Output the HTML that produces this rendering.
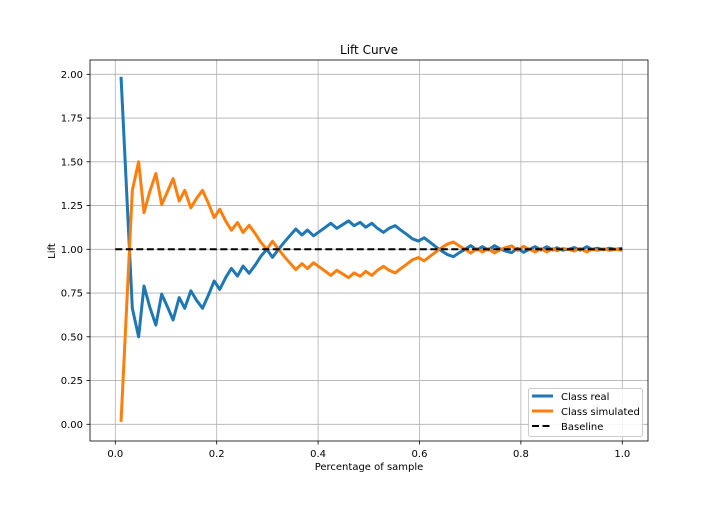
<!DOCTYPE html>
<html><head><meta charset="utf-8"><style>
body{margin:0;background:#fff;font-family:"Liberation Sans","DejaVu Sans",sans-serif}
svg text{font-family:"DejaVu Sans","Liberation Sans",sans-serif}
</style></head><body>
<svg id="c" width="720" height="504"></svg>
<script>
const xs=[0.0113,0.0336,0.046,0.0566,0.068,0.080,0.0915,0.103,0.114,0.126,0.137,0.149,0.16,0.172,0.184,0.195,0.206,0.218,0.229,0.241,0.252,0.264,0.276,0.287,0.299,0.310,0.322,0.333,0.345,0.356,0.368,0.379,0.391,0.402,0.414,0.425,0.437,0.448,0.460,0.471,0.483,0.494,0.506,0.517,0.529,0.540,0.552,0.563,0.575,0.586,0.598,0.609,0.621,0.632,0.644,0.655,0.667,0.678,0.690,0.701,0.713,0.724,0.736,0.748,0.759,0.770,0.782,0.793,0.805,0.817,0.828,0.840,0.851,0.863,0.871,0.882,0.894,0.905,0.917,0.930,0.940,0.951,0.963,0.975,0.987,1.0];
const realVals=[1.986,0.663,0.50,0.79,0.67,0.567,0.744,0.67,0.596,0.724,0.663,0.763,0.71,0.663,0.74,0.819,0.771,0.84,0.891,0.847,0.904,0.863,0.91,0.96,1.0,0.954,1.0,1.04,1.08,1.116,1.082,1.11,1.077,1.10,1.125,1.149,1.12,1.14,1.162,1.135,1.154,1.126,1.149,1.12,1.097,1.12,1.135,1.11,1.085,1.06,1.047,1.066,1.04,1.015,0.99,0.97,0.958,0.98,1.0,1.021,0.996,1.015,0.996,1.021,1.002,0.99,0.981,1.006,0.983,1.0,1.015,0.996,1.015,0.996,1.009,0.995,1.0,1.01,0.995,1.015,1.0,1.006,0.997,1.006,1.0,1.006];
const simVals=[0.014,1.337,1.50,1.21,1.33,1.433,1.256,1.33,1.404,1.276,1.337,1.237,1.29,1.337,1.26,1.181,1.229,1.16,1.109,1.153,1.096,1.137,1.09,1.04,1.0,1.046,1.0,0.96,0.92,0.884,0.918,0.89,0.923,0.90,0.875,0.851,0.88,0.86,0.838,0.865,0.846,0.874,0.851,0.88,0.903,0.88,0.865,0.89,0.915,0.94,0.953,0.934,0.96,0.985,1.01,1.03,1.042,1.02,1.0,0.979,1.004,0.985,1.004,0.979,0.998,1.01,1.019,0.994,1.017,1.0,0.985,1.004,0.985,1.004,0.991,1.005,1.0,0.99,1.005,0.985,1.0,0.994,1.003,0.994,1.0,0.994];
const xTicks=[0,0.2,0.4,0.6,0.8,1.0];
const xTickLabels=["0.0","0.2","0.4","0.6","0.8","1.0"];
const yTicks=[0,0.25,0.5,0.75,1.0,1.25,1.5,1.75,2.0];
const yTickLabels=["0.00","0.25","0.50","0.75","1.00","1.25","1.50","1.75","2.00"];
const L=90,R=648,T=60,B=441;
const X=v=>115.3+v*507, Y=v=>424.3-v*175;
const svg=document.getElementById('c'),NS='http://www.w3.org/2000/svg';
function mk(t,a,p){const e=document.createElementNS(NS,t);for(const k in a)e.setAttribute(k,a[k]);(p||svg).appendChild(e);return e;}
xTicks.forEach((t,i)=>{
 const g=mk('line',{x1:X(t),x2:X(t),y1:T,y2:B,stroke:'#b0b0b0','stroke-width':0.8});
 
 
 mk('line',{x1:X(t),x2:X(t),y1:B,y2:B+3.5,stroke:'#000','stroke-width':0.8});
 const tx=mk('text',{x:X(t),y:B+16,'text-anchor':'middle','font-size':10});tx.textContent=xTickLabels[i];
 
 
});
yTicks.forEach((t,i)=>{
 const g=mk('line',{x1:L,x2:R,y1:Y(t),y2:Y(t),stroke:'#b0b0b0','stroke-width':0.8});
 
 
 mk('line',{x1:L-3.5,x2:L,y1:Y(t),y2:Y(t),stroke:'#000','stroke-width':0.8});
 const tx=mk('text',{x:L-7,y:Y(t)+3.5,'text-anchor':'end','font-size':10});tx.textContent=yTickLabels[i];
 
 
});
function line(vals,color,name){
 const p=mk('polyline',{points:vals.map((v,i)=>X(xs[i])+','+Y(v)).join(' '),fill:'none',stroke:color,'stroke-width':3,'stroke-linejoin':'round'});
 
 
}
line(realVals,'#1f77b4','series-class-real');
line(simVals,'#ff7f0e','series-class-simulated');
const bl=mk('line',{x1:X(0),x2:X(1),y1:Y(1),y2:Y(1),stroke:'#000','stroke-width':2,'stroke-dasharray':'7,3.5'});


const fr=mk('rect',{x:L,y:T,width:R-L,height:B-T,fill:'none',stroke:'#000','stroke-width':0.8});


</script>
<svg style="position:absolute;left:0;top:0" width="720" height="504">
<text x="369" y="54" text-anchor="middle" font-size="12">Lift Curve</text>
<text x="369" y="470" text-anchor="middle" font-size="10">Percentage of sample</text>
<text x="55" y="251" text-anchor="middle" font-size="10" transform="rotate(-90 55 251)">Lift</text>
<g>
<rect x="528.5" y="388.5" width="114" height="48" rx="2" fill="#fff" fill-opacity="0.85" stroke="#ccc"/>
<line x1="532" x2="553" y1="396" y2="396" stroke="#1f77b4" stroke-width="3"/>
<text x="561" y="400" font-size="10">Class real</text>
<line x1="532" x2="553" y1="411" y2="411" stroke="#ff7f0e" stroke-width="3"/>
<text x="561" y="415" font-size="10">Class simulated</text>
<line x1="532" x2="553" y1="426" y2="426" stroke="#000" stroke-width="2" stroke-dasharray="7,3.5"/>
<text x="561" y="430" font-size="10">Baseline</text>
</g>
</svg>
</body></html>
